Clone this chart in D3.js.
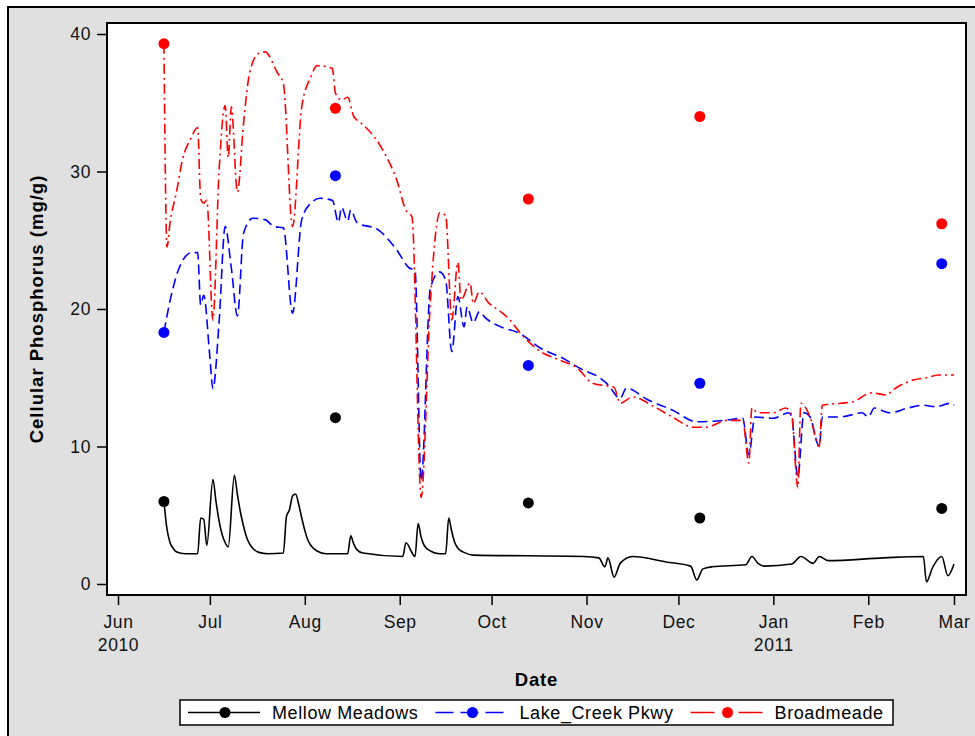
<!DOCTYPE html>
<html><head><meta charset="utf-8">
<script src="https://cdn.jsdelivr.net/npm/d3@7"></script>
<style>body{margin:0;background:#fff;} svg{display:block;font-family:"Liberation Sans",Arial,sans-serif;}</style>
</head><body><svg id="c" width="975" height="736"></svg>
<script>
// ---------------- data ----------------
const seriesNames = ["Mellow Meadows", "Lake_Creek Pkwy", "Broadmeade"];
const sampleDates = ["2010-06-16", "2010-08-11", "2010-10-13", "2010-12-08", "2011-02-25"];
const mellowSamples = [6.0, 12.1, 5.9, 4.8, 5.5];
const lakeSamples = [18.3, 29.7, 15.9, 14.6, 23.3];
const broadSamples = [39.3, 34.6, 28.0, 34.0, 26.2];

const mellowLine = [
  ["2010-06-16",6.0],["2010-06-17",4.0],["2010-06-18",3.0],["2010-06-19",2.6],["2010-06-20",2.35],
  ["2010-06-23",2.2],["2010-06-27",2.2],["2010-06-28",4.8],["2010-06-29",4.7],["2010-06-30",2.8],
  ["2010-07-02",7.6],["2010-07-03",6.0],["2010-07-04",4.6],["2010-07-05",3.6],["2010-07-06",3.0],
  ["2010-07-07",2.7],["2010-07-09",7.9],["2010-07-10",6.5],["2010-07-11",5.2],["2010-07-12",4.2],
  ["2010-07-13",3.4],["2010-07-14",2.9],["2010-07-15",2.6],["2010-07-17",2.3],["2010-07-20",2.2],
  ["2010-07-25",2.25],["2010-07-26",4.9],["2010-07-27",5.4],["2010-07-28",6.4],["2010-07-29",6.55],
  ["2010-07-30",5.8],["2010-07-31",4.8],["2010-08-01",3.9],["2010-08-02",3.2],["2010-08-03",2.8],
  ["2010-08-05",2.4],["2010-08-08",2.2],["2010-08-15",2.2],["2010-08-16",3.5],["2010-08-17",2.9],
  ["2010-08-18",2.5],["2010-08-20",2.25],["2010-09-02",2.0],["2010-09-03",3.0],["2010-09-06",2.0],
  ["2010-09-07",4.4],["2010-09-08",3.4],["2010-09-09",2.8],["2010-09-11",2.4],["2010-09-14",2.2],
  ["2010-09-16",2.2],["2010-09-17",4.8],["2010-09-18",3.8],["2010-09-19",3.0],["2010-09-20",2.6],
  ["2010-09-22",2.3],["2010-09-25",2.1],["2010-10-31",2.0],["2010-11-05",1.9],["2010-11-07",1.25],
  ["2010-11-08",1.9],["2010-11-10",0.5],["2010-11-12",1.5],["2010-11-16",2.0],["2010-11-27",1.6],
  ["2010-12-05",1.3],["2010-12-07",0.3],["2010-12-09",1.1],["2010-12-12",1.25],["2010-12-23",1.4],
  ["2010-12-25",2.0],["2010-12-27",1.5],["2010-12-29",1.3],["2011-01-07",1.45],["2011-01-10",2.0],
  ["2011-01-14",1.5],["2011-01-16",2.0],["2011-01-19",1.7],["2011-02-06",1.9],["2011-02-19",2.0],
  ["2011-02-20",0.15],["2011-02-22",1.2],["2011-02-25",2.0],["2011-02-27",0.6],["2011-03-01",1.45]
];

const lakeLine = [
  ["2010-06-16",18.3],["2010-06-18",20.6],["2010-06-21",23.0],["2010-06-25",24.1],["2010-06-27",24.1],
  ["2010-06-28",20.3],["2010-06-29",21.0],["2010-07-01",16.5],["2010-07-02",14.2],["2010-07-04",19.0],
  ["2010-07-06",26.0],["2010-07-08",23.0],["2010-07-10",19.5],["2010-07-12",25.5],["2010-07-15",26.6],
  ["2010-07-19",26.5],["2010-07-22",26.0],["2010-07-25",25.9],["2010-07-28",19.7],["2010-07-31",26.5],
  ["2010-08-03",27.7],["2010-08-06",28.05],["2010-08-10",27.9],["2010-08-12",26.3],["2010-08-13",27.4],
  ["2010-08-15",26.4],["2010-08-16",27.2],["2010-08-18",26.3],["2010-08-25",25.75],["2010-08-31",24.3],
  ["2010-09-04",23.0],["2010-09-06",22.8],["2010-09-08",7.5],["2010-09-11",21.5],["2010-09-14",22.7],
  ["2010-09-16",22.1],["2010-09-18",16.9],["2010-09-20",20.9],["2010-09-22",18.7],["2010-09-23",20.15],
  ["2010-09-25",19.0],["2010-09-27",19.8],["2010-09-29",19.35],["2010-10-04",18.7],["2010-10-10",18.25],
  ["2010-10-17",17.15],["2010-10-24",16.45],["2010-10-31",15.55],["2010-11-05",15.05],["2010-11-08",14.5],
  ["2010-11-12",13.5],["2010-11-14",14.25],["2010-11-21",13.4],["2010-11-29",12.65],["2010-12-07",11.8],
  ["2010-12-16",11.9],["2010-12-22",12.05],["2010-12-24",9.4],["2010-12-26",12.15],["2011-01-01",12.05],
  ["2011-01-06",12.45],["2011-01-07",12.15],["2011-01-09",7.8],["2011-01-11",12.45],["2011-01-13",12.15],
  ["2011-01-16",10.0],["2011-01-17",12.15],["2011-01-23",12.15],["2011-01-30",12.45],["2011-02-01",12.15],
  ["2011-02-03",12.8],["2011-02-08",12.45],["2011-02-14",12.8],["2011-02-19",13.0],["2011-02-23",12.9],
  ["2011-02-28",13.15],["2011-03-01",13.0]
];

const broadLine = [
  ["2010-06-16",39.3],["2010-06-17",24.5],["2010-06-18",26.3],["2010-06-20",28.4],["2010-06-22",30.8],
  ["2010-06-25",32.5],["2010-06-27",33.2],["2010-06-28",28.0],["2010-06-29",27.7],["2010-06-30",27.9],
  ["2010-07-02",19.2],["2010-07-04",30.0],["2010-07-06",34.8],["2010-07-07",31.0],["2010-07-08",34.7],
  ["2010-07-10",28.5],["2010-07-12",33.5],["2010-07-14",37.2],["2010-07-17",38.6],["2010-07-19",38.7],
  ["2010-07-23",37.2],["2010-07-25",36.4],["2010-07-28",26.0],["2010-07-31",34.7],["2010-08-03",36.9],
  ["2010-08-05",37.7],["2010-08-10",37.5],["2010-08-11",35.7],["2010-08-13",35.2],["2010-08-15",35.4],
  ["2010-08-17",34.0],["2010-08-18",33.75],["2010-08-20",33.4],["2010-08-27",31.35],["2010-08-31",29.4],
  ["2010-09-03",27.2],["2010-09-05",26.7],["2010-09-08",6.3],["2010-09-11",20.5],["2010-09-13",26.0],
  ["2010-09-14",27.0],["2010-09-16",26.8],["2010-09-18",19.2],["2010-09-20",23.4],["2010-09-21",20.65],
  ["2010-09-24",21.9],["2010-09-25",20.4],["2010-09-27",21.25],["2010-09-30",20.45],["2010-10-04",19.8],
  ["2010-10-07",19.2],["2010-10-10",18.35],["2010-10-17",16.9],["2010-10-23",16.3],["2010-10-29",15.7],
  ["2010-11-03",14.6],["2010-11-10",14.3],["2010-11-12",13.15],["2010-11-16",13.6],["2010-11-23",12.9],
  ["2010-11-29",12.15],["2010-12-06",11.4],["2010-12-10",11.4],["2010-12-17",11.9],["2010-12-22",11.9],
  ["2010-12-24",8.8],["2010-12-25",12.8],["2010-12-27",12.45],["2011-01-01",12.45],["2011-01-05",12.8],
  ["2011-01-07",12.3],["2011-01-09",7.0],["2011-01-10",13.15],["2011-01-13",12.15],["2011-01-16",10.0],
  ["2011-01-17",13.0],["2011-01-23",13.15],["2011-01-27",13.25],["2011-02-02",13.9],["2011-02-07",13.75],
  ["2011-02-09",14.1],["2011-02-16",14.85],["2011-02-20",15.0],["2011-02-24",15.2],["2011-03-01",15.2]
];

const monthTicks = ["2010-06-01","2010-07-01","2010-08-01","2010-09-01","2010-10-01","2010-11-01",
                    "2010-12-01","2011-01-01","2011-02-01","2011-03-01"];
const monthLabels = ["Jun","Jul","Aug","Sep","Oct","Nov","Dec","Jan","Feb","Mar"];
const yearLabels  = ["2010","","","","","","","2011","",""];
const yTicks = [0, 10, 20, 30, 40];
const xTitle = "Date";
const yTitle = "Cellular Phosphorus (mg/g)";

// ---------------- drawing ----------------
const FONT = '"Liberation Sans", Arial, sans-serif';
const parse = d3.timeParse("%Y-%m-%d");
const svg = d3.select("#c");
const plot = {l: 107, t: 23, r: 966, b: 595};

const x = d3.scaleTime().domain([parse("2010-06-01"), parse("2011-03-01")]).range([118, 954]);
const y = d3.scaleLinear().domain([0, 40]).range([584, 34]);

// outer background frame
svg.append("rect").attr("x", 8).attr("y", 7).attr("width", 1000).attr("height", 800)
  .attr("fill", "#e0e0e0").attr("stroke", "#000").attr("stroke-width", 2);

// plot wall
svg.append("rect").attr("x", plot.l).attr("y", plot.t)
  .attr("width", plot.r - plot.l).attr("height", plot.b - plot.t).attr("fill", "#fff");

// axes
const gy = svg.append("g").attr("transform", `translate(${plot.l},0)`)
  .call(d3.axisLeft(y).tickValues(yTicks).tickSize(10).tickPadding(6));
gy.select(".domain").remove();
gy.attr("font-family", FONT).attr("font-size", 17.5);
gy.selectAll("line").attr("stroke", "#000").attr("stroke-width", 1.5);
gy.selectAll("text").attr("fill", "#111").attr("letter-spacing", 0.6);

const gx = svg.append("g").attr("transform", `translate(0,${plot.b})`)
  .call(d3.axisBottom(x).tickValues(monthTicks.map(parse)).tickSize(10).tickPadding(11)
    .tickFormat((d, i) => monthLabels[i]));
gx.select(".domain").remove();
gx.attr("font-family", FONT).attr("font-size", 17.5);
gx.selectAll("line").attr("stroke", "#000").attr("stroke-width", 1.5);
gx.selectAll("text").attr("fill", "#111").attr("letter-spacing", 0.6);
gx.selectAll(".tick text").each(function(d, i) {
  if (yearLabels[i]) d3.select(this).append("tspan").attr("x", 0).attr("dy", 23).text(yearLabels[i]);
});

// axis titles
svg.append("text").attr("x", (plot.l + plot.r) / 2).attr("y", 686)
  .attr("text-anchor", "middle").attr("font-family", FONT).attr("font-weight", "bold")
  .attr("font-size", 18.5).attr("letter-spacing", 0.8).attr("fill", "#000").text(xTitle);
svg.append("text").attr("transform", `translate(43,${(plot.t + plot.b) / 2}) rotate(-90)`)
  .attr("text-anchor", "middle").attr("font-family", FONT).attr("font-weight", "bold")
  .attr("font-size", 18.5).attr("letter-spacing", 1.0).attr("fill", "#000").text(yTitle);

// series
const styles = [
  {color: "#000000", dash: null, legendDash: null},
  {color: "#0000ff", dash: "10,5", legendDash: "18,7"},
  {color: "#ff0000", dash: "10,4,2,4", legendDash: "24,24"}
];
const lines = [mellowLine, lakeLine, broadLine];
const samples = [mellowSamples, lakeSamples, broadSamples];

const line = d3.line().curve(d3.curveMonotoneX).x(d => x(parse(d[0]))).y(d => y(d[1]));
lines.forEach((data, i) => {
  svg.append("path").datum(data).attr("d", line)
    .attr("fill", "none").attr("stroke", styles[i].color)
    .attr("stroke-width", 1.6)
    .attr("stroke-linejoin", "round")
    .attr("stroke-dasharray", styles[i].dash);
});
samples.forEach((vals, i) => {
  svg.append("g").selectAll("circle").data(vals).join("circle")
    .attr("cx", (d, j) => x(parse(sampleDates[j])))
    .attr("cy", d => y(d))
    .attr("r", 5.5)
    .attr("fill", styles[i].color);
});

// plot frame
svg.append("rect").attr("x", plot.l).attr("y", plot.t)
  .attr("width", plot.r - plot.l).attr("height", plot.b - plot.t)
  .attr("fill", "none").attr("stroke", "#000").attr("stroke-width", 2);

// legend
const lg = svg.append("g");
lg.append("rect").attr("x", 180).attr("y", 700).attr("width", 713).attr("height", 25)
  .attr("fill", "#fff").attr("stroke", "#000").attr("stroke-width", 1.5);
let lx = 188;
seriesNames.forEach((name, i) => {
  const cy = 712.5;
  const len = i === 1 ? 68 : 72;
  lg.append("line").attr("x1", lx).attr("x2", lx + len).attr("y1", cy).attr("y2", cy)
    .attr("stroke", styles[i].color).attr("stroke-width", 1.6)
    .attr("stroke-dasharray", styles[i].legendDash);
  lg.append("circle").attr("cx", lx + 37).attr("cy", cy).attr("r", 5.5).attr("fill", styles[i].color);
  const t = lg.append("text").attr("x", lx + 84).attr("y", 719)
    .attr("font-family", FONT).attr("font-size", 18).attr("letter-spacing", 0.6)
    .attr("fill", "#000").text(name);
  lx = lx + 84 + t.node().getComputedTextLength() + 17;
});
</script>
</body></html>
